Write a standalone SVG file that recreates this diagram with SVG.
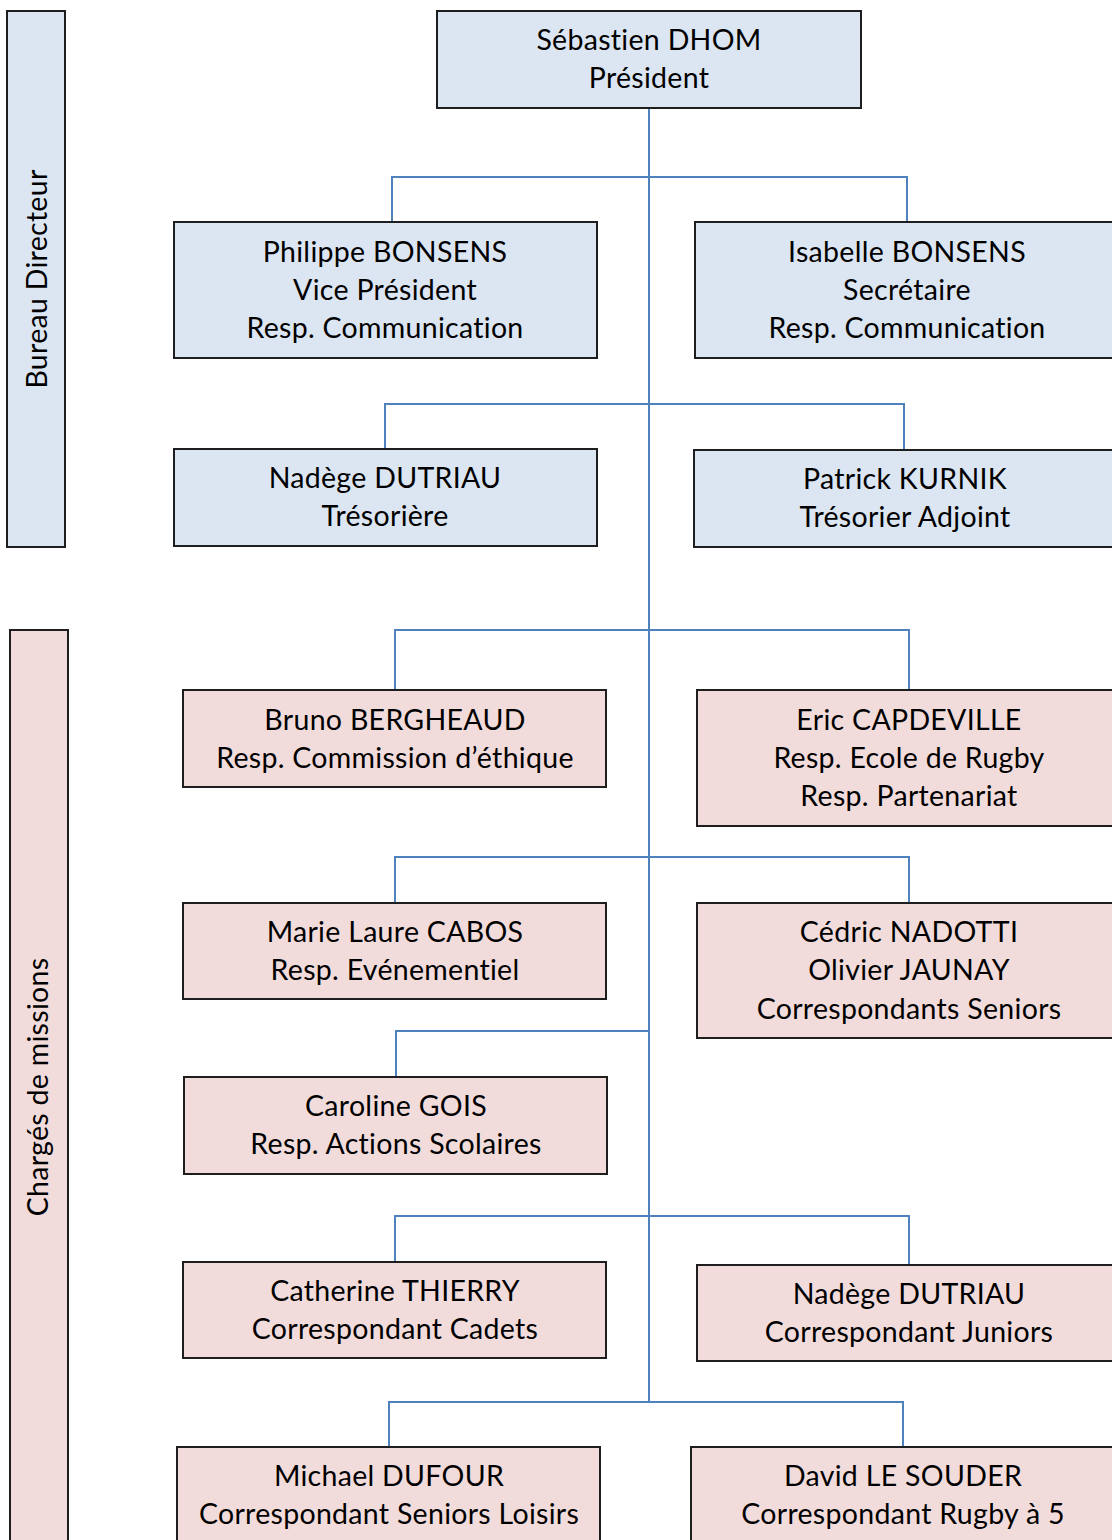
<svg xmlns="http://www.w3.org/2000/svg" width="1112" height="1540" viewBox="0 0 1112 1540">
<style>
.b{fill:#dce6f2;stroke:#1e1e1e;stroke-width:2}
.p{fill:#f2dcdb;stroke:#1e1e1e;stroke-width:2}
.t{font-family:Lato,"Liberation Sans",sans-serif;font-size:28.5px;letter-spacing:0.3px;fill:#000;text-anchor:middle}
.c{fill:none;stroke:#4f81bd;stroke-width:2}
</style>
<rect width="1112" height="1540" fill="#fff"/>
<g id="connectors">
<path class="c" d="M649,108V1402"/>
<path class="c" d="M392,222V177H907V222"/>
<path class="c" d="M385,449V404H904V450"/>
<path class="c" d="M395,690V630H909V690"/>
<path class="c" d="M395,903V857H909V903"/>
<path class="c" d="M396,1077V1031H649"/>
<path class="c" d="M395,1262V1216H909V1265"/>
<path class="c" d="M389,1447V1402H903V1447"/>
</g>
<g id="band-bureau">
<rect class="b" x="7" y="11" width="58" height="536"/>
<text class="t" transform="translate(47,279) rotate(-90)">Bureau Directeur</text>
</g>
<g id="band-charges">
<rect class="p" x="10" y="630" width="58" height="920"/>
<text class="t" transform="translate(48,1087) rotate(-90)">Chargés de missions</text>
</g>
<g id="president">
<rect class="b" x="437" y="11" width="424" height="97"/>
<text class="t" x="649" y="50">Sébastien DHOM</text>
<text class="t" x="649" y="88">Président</text>
</g>
<g id="philippe">
<rect class="b" x="174" y="222" width="423" height="136"/>
<text class="t" x="385" y="262">Philippe BONSENS</text>
<text class="t" x="385" y="300">Vice Président</text>
<text class="t" x="385" y="338">Resp. Communication</text>
</g>
<g id="isabelle">
<rect class="b" x="695" y="222" width="430" height="136"/>
<text class="t" x="907" y="262">Isabelle BONSENS</text>
<text class="t" x="907" y="300">Secrétaire</text>
<text class="t" x="907" y="338">Resp. Communication</text>
</g>
<g id="nadege-tresoriere">
<rect class="b" x="174" y="449" width="423" height="97"/>
<text class="t" x="385" y="488">Nadège DUTRIAU</text>
<text class="t" x="385" y="526">Trésorière</text>
</g>
<g id="patrick">
<rect class="b" x="694" y="450" width="430" height="97"/>
<text class="t" x="905" y="489">Patrick KURNIK</text>
<text class="t" x="905" y="527">Trésorier Adjoint</text>
</g>
<g id="bruno">
<rect class="p" x="183" y="690" width="423" height="97"/>
<text class="t" x="395" y="730">Bruno BERGHEAUD</text>
<text class="t" x="395" y="768">Resp. Commission d’éthique</text>
</g>
<g id="eric">
<rect class="p" x="697" y="690" width="430" height="136"/>
<text class="t" x="909" y="730">Eric CAPDEVILLE</text>
<text class="t" x="909" y="768">Resp. Ecole de Rugby</text>
<text class="t" x="909" y="806">Resp. Partenariat</text>
</g>
<g id="marie">
<rect class="p" x="183" y="903" width="423" height="96"/>
<text class="t" x="395" y="942">Marie Laure CABOS</text>
<text class="t" x="395" y="980">Resp. Evénementiel</text>
</g>
<g id="cedric">
<rect class="p" x="697" y="903" width="430" height="135"/>
<text class="t" x="909" y="942">Cédric NADOTTI</text>
<text class="t" x="909" y="980">Olivier JAUNAY</text>
<text class="t" x="909" y="1019">Correspondants Seniors</text>
</g>
<g id="caroline">
<rect class="p" x="184" y="1077" width="423" height="97"/>
<text class="t" x="396" y="1116">Caroline GOIS</text>
<text class="t" x="396" y="1154">Resp. Actions Scolaires</text>
</g>
<g id="catherine">
<rect class="p" x="183" y="1262" width="423" height="96"/>
<text class="t" x="395" y="1301">Catherine THIERRY</text>
<text class="t" x="395" y="1339">Correspondant Cadets</text>
</g>
<g id="nadege-juniors">
<rect class="p" x="697" y="1265" width="430" height="96"/>
<text class="t" x="909" y="1304">Nadège DUTRIAU</text>
<text class="t" x="909" y="1342">Correspondant Juniors</text>
</g>
<g id="michael">
<rect class="p" x="177" y="1447" width="423" height="110"/>
<text class="t" x="389" y="1486">Michael DUFOUR</text>
<text class="t" x="389" y="1524">Correspondant Seniors Loisirs</text>
</g>
<g id="david">
<rect class="p" x="691" y="1447" width="436" height="110"/>
<text class="t" x="903" y="1486">David LE SOUDER</text>
<text class="t" x="903" y="1524">Correspondant Rugby à 5</text>
</g>
</svg>
